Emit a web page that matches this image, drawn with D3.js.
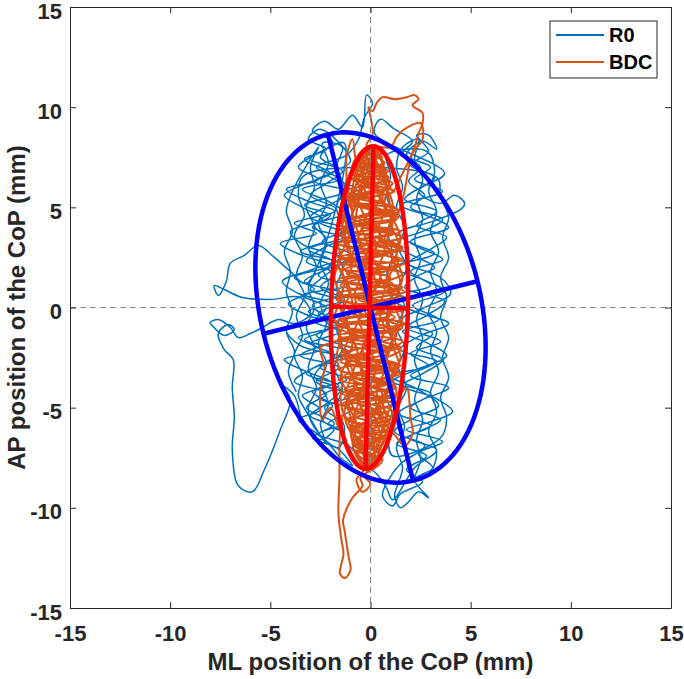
<!DOCTYPE html>
<html>
<head>
<meta charset="utf-8">
<script src="https://cdn.jsdelivr.net/npm/d3@7"></script>
<style>
  body { margin: 0; background: #fff; }
  svg { display: block; font-family: "Liberation Sans", Arial, sans-serif; }
</style>
</head>
<body>
<svg id="chart" width="684" height="679"></svg>
<script>
// tick labels
var xTicks = [-15, -10, -5, 0, 5, 10, 15];
var yTicks = [-15, -10, -5, 0, 5, 10, 15];

// series
var seriesNames = ["R0", "BDC"];

// R0 CoP trace (mm)
var r0Trace = [
  [-2.0,8.0],[-3.0,7.4],[-1.6,6.9],[-2.8,6.3],[-1.2,5.8],[-3.3,5.1],[-2.0,4.6],[-2.9,4.0],[-1.4,3.5],[-3.1,2.9],[-1.9,2.3],[-2.6,1.6],[-1.1,1.1],[-3.4,0.6],[-2.2,0.0],[-2.8,-0.7],[-1.5,-1.2],[-3.0,-1.8],[-1.8,-2.4],[-2.5,-3.0],[-1.2,-3.6],[-2.9,-4.2],[-1.9,-4.9],[-2.4,-5.6],[-1.3,-6.2],
  [-2.1,-5.8],[-1.0,-5.1],[-2.6,-4.5],[-1.6,-3.9],[-3.2,-3.3],[-2.2,-2.7],[-0.9,-2.1],[-2.7,-1.4],[-1.7,-0.8],[-3.1,-0.2],[-1.3,0.4],[-2.5,1.0],[-1.8,1.7],[-3.2,2.3],[-2.3,3.0],[-1.0,3.6],[-2.6,4.3],[-1.7,4.9],[-3.0,5.6],[-2.2,6.2],[-1.4,6.8],[-2.5,7.5],[-1.9,8.3],[-2.9,8.8],[-2.3,9.3],
  [-1.6,8.9],[-0.9,9.6],[-0.4,9.0],[-0.2,10.6],[0.1,10.2],[-0.3,9.5],[-0.6,8.4],[-1.2,7.6],
  [-2.7,7.0],[-1.5,6.4],[-3.4,5.9],[-2.1,5.3],[-1.3,4.7],[-2.8,4.1],[-2.2,3.4],[-3.5,2.8],[-1.6,2.2],[-2.4,1.5],[-3.0,0.9],[-1.4,0.3],[-2.6,-0.3],[-2.0,-1.0],[-3.3,-1.6],[-1.1,-2.2],[-2.3,-2.8],[-2.8,-3.5],[-1.5,-4.1],[-2.2,-4.8],[-3.0,-5.4],[-1.8,-6.0],[-2.5,-6.6],
  [-3.3,-5.9],[-3.8,-4.4],[-4.4,-3.9],[-4.0,-4.6],[-4.5,-6.1],[-5.3,-8.1],[-5.9,-9.2],[-6.6,-8.9],[-6.9,-7.1],[-6.8,-5.5],[-6.9,-4.0],[-6.85,-2.6],[-7.3,-2.1],[-7.6,-1.3],[-7.1,-0.85],[-6.8,-1.1],[-7.3,-1.4],[-7.9,-0.9],[-8.0,-0.75],[-7.6,-0.6],[-7.0,-1.0],[-6.6,-1.5],[-6.0,-1.3],[-5.4,-1.0],[-4.6,-0.6],[-3.8,-0.8],[-3.0,-0.3],
  [-3.5,0.5],[-5.0,0.4],[-6.4,0.5],[-7.3,0.9],[-7.8,1.1],[-7.6,0.6],[-7.2,1.3],[-7.0,2.2],[-6.3,2.6],[-5.6,3.1],[-4.8,2.5],[-4.0,1.8],[-3.2,1.2],
  [-1.3,8.2],[-2.4,7.8],[-3.6,7.0],[-2.6,6.4],[-4.2,5.9],[-3.1,5.3],[-1.8,4.8],[-3.8,4.2],[-2.7,3.7],[-4.5,3.2],[-3.4,2.6],[-2.0,2.1],[-3.8,1.5],[-2.8,0.9],[-4.1,0.2],[-3.1,-0.4],[-1.6,-0.9],[-3.6,-1.5],[-2.5,-2.1],[-4.3,-2.6],[-3.2,-3.2],[-1.9,-3.8],[-3.4,-4.4],[-2.5,-5.1],[-3.6,-5.6],[-2.8,-6.2],[-2.0,-6.9],[-1.5,-7.5],[-0.9,-7.9],
  [-1.7,-7.0],[-2.9,-6.5],[-1.8,-5.8],[-3.2,-5.0],[-2.2,-4.3],[-3.8,-3.7],[-2.8,-3.0],[-1.4,-2.5],[-3.5,-1.9],[-4.2,-1.1],[-2.6,-0.6],[-1.8,0.1],[-3.6,0.7],[-4.4,1.3],[-2.9,1.9],[-1.5,2.5],[-3.3,3.1],[-4.0,3.8],[-2.4,4.4],[-3.4,5.0],[-4.3,5.6],[-3.2,6.2],[-2.0,6.7],[-3.3,7.4],[-2.2,7.9],[-3.1,8.4],[-2.5,8.9],
  [-1.0,7.3],[-2.1,6.6],[-0.7,5.9],[-1.9,5.2],[-3.0,4.5],[-1.1,3.9],[-2.4,3.3],[-0.9,2.6],[-2.2,1.9],[-3.3,1.3],[-1.4,0.7],[-2.9,0.1],[-1.9,-0.6],[-0.8,-1.3],[-2.4,-1.9],[-3.5,-2.4],[-1.6,-3.0],[-2.7,-3.7],[-1.0,-4.4],[-2.3,-5.0],[-1.4,-5.8],[-2.6,-6.3],[-1.1,-6.9],[-0.5,-7.6],[0.3,-8.3],[0.8,-9.0],[1.1,-9.6],
  [2.2,-8.0],[3.3,-7.1],[1.9,-6.5],[3.0,-5.9],[1.4,-5.3],[2.6,-4.6],[3.9,-4.0],[2.0,-3.4],[3.3,-2.7],[1.5,-2.1],[2.5,-1.4],[3.9,-0.8],[2.2,-0.2],[1.0,0.5],[3.0,1.1],[2.0,1.8],[3.6,2.4],[2.4,3.0],[1.4,3.7],[3.1,4.3],[4.5,4.9],[4.7,5.2],[4.2,5.6],[3.5,5.2],[2.4,5.8],[3.2,6.5],[2.0,7.1],[2.9,7.8],[2.3,8.6],[2.9,8.6],[3.3,7.9],
  [2.6,8.3],[1.8,7.6],[3.0,7.0],[2.2,6.4],[3.6,5.8],[1.5,5.1],[2.8,4.6],[3.9,4.0],[2.0,3.3],[3.2,2.7],[1.2,2.0],[2.6,1.4],[3.7,0.8],[2.1,0.1],[3.4,-0.6],[1.6,-1.2],[2.9,-1.8],[3.8,-2.4],[2.3,-3.1],[1.1,-3.7],[3.0,-4.3],[2.0,-5.0],[3.5,-5.6],[2.4,-6.2],[1.3,-6.8],[2.8,-7.4],[1.8,-8.1],[2.6,-8.7],[1.5,-9.3],[1.1,-9.9],[0.6,-9.4],[0.9,-8.6],
  [1.5,-7.8],[2.7,-6.9],[1.2,-6.2],[2.2,-5.5],[3.4,-4.9],[2.4,-4.1],[1.0,-3.4],[2.9,-2.9],[2.0,-2.3],[3.5,-1.7],[1.8,-1.0],[2.8,-0.4],[3.7,0.3],[1.7,1.0],[2.4,1.6],[3.2,2.0],[2.1,2.6],[1.0,3.2],[2.6,3.8],[3.6,4.4],[2.0,5.0],[2.7,5.6],[1.9,6.3],[2.5,7.0],[1.6,7.7],[2.1,8.3],[1.2,8.9],[0.5,9.4],[0.2,8.7],
  [3.7,6.7],[2.5,6.0],[1.7,5.4],[3.3,4.8],[2.3,4.1],[3.8,3.5],[2.8,2.8],[1.9,2.2],[3.5,1.5],[4.0,0.7],[2.7,0.0],[1.4,-0.7],[3.1,-1.3],[2.3,-2.0],[3.6,-2.6],[2.6,-3.3],[1.6,-3.9],[3.2,-4.5],[4.1,-5.2],[3.0,-5.7],[1.8,-6.1],[3.6,-6.7],[2.4,-7.3],[3.1,-8.0],[2.2,-8.6],[2.9,-9.5],[2.4,-9.2],[1.9,-9.7],[1.5,-10.0],[1.2,-9.4],
  [1.3,-9.0],[1.6,-8.0],[1.3,-7.0],[1.7,-6.0],[1.4,-5.0],[1.8,-4.0],[1.4,-3.0],[1.7,-2.0],[1.3,-1.0],[1.7,0.0],[1.4,1.0],[1.8,2.0],[1.4,3.0],[1.7,4.0],[1.3,5.0],[1.6,6.0],[1.3,7.0],[1.6,8.0],
  [2.4,8.4],[2.2,7.4],[2.6,6.4],[2.3,5.4],[2.6,4.4],[2.2,3.4],[2.5,2.4],[2.2,1.4],[2.6,0.4],[2.3,-0.6],[2.6,-1.6],[2.2,-2.6],[2.5,-3.6],[2.2,-4.6],[2.6,-5.6],[2.3,-6.6],[2.5,-7.6],[2.2,-8.6],
  [3.0,-8.2],[3.3,-7.2],[2.9,-6.2],[3.3,-5.2],[3.0,-4.2],[3.4,-3.2],[3.0,-2.2],[3.3,-1.2],[2.9,-0.2],[3.3,0.8],[3.0,1.8],[3.4,2.8],[3.0,3.8],[3.3,4.8],[2.9,5.8],[3.2,6.8],[2.8,7.8],
  [0.8,7.6],[1.0,6.6],[0.8,5.6],[1.1,4.6],[0.9,3.6],[1.1,2.6],[0.8,1.6],[1.1,0.6],[0.8,-0.4],[1.1,-1.4],[0.8,-2.4],[1.1,-3.4],[0.8,-4.4],[1.1,-5.4],[0.9,-6.4],[1.1,-7.4],
  [3.5,-6.5],[3.8,-5.5],[3.5,-4.5],[3.9,-3.5],[3.6,-2.5],[3.9,-1.5],[3.5,-0.5],[3.8,0.5],[3.5,1.5],[3.9,2.5],[3.6,3.5],[3.9,4.5],[3.5,5.5],[3.3,6.5],
  [-3.3,6.6],[-3.6,5.6],[-3.3,4.6],[-3.8,3.6],[-3.4,2.6],[-3.7,1.6],[-3.3,0.6],[-3.7,-0.4],[-3.4,-1.4],[-3.8,-2.4],[-3.4,-3.4],[-3.6,-4.4],[-3.2,-5.2],
  [-2.2,-6.8],[-2.5,-5.8],[-2.1,-4.8],[-2.5,-3.8],[-2.2,-2.8],[-2.6,-1.8],[-2.2,-0.8],[-2.5,0.2],[-2.1,1.2],[-2.5,2.2],[-2.2,3.2],[-2.6,4.2],[-2.2,5.2],[-2.5,6.2],[-2.1,7.2],[-2.4,8.2],
  [-1.4,8.0],[-1.7,7.0],[-1.3,6.0],[-1.7,5.0],[-1.4,4.0],[-1.8,3.0],[-1.4,2.0],[-1.7,1.0],[-1.3,0.0],[-1.7,-1.0],[-1.4,-2.0],[-1.8,-3.0],[-1.4,-4.0],[-1.7,-5.0],[-1.3,-6.0],[-1.6,-7.0],
  [-2.8,-6.0],[-3.1,-5.0],[-2.7,-4.0],[-3.1,-3.0],[-2.8,-2.0],[-3.2,-1.0],[-2.8,0.0],[-3.1,1.0],[-2.7,2.0],[-3.1,3.0],[-2.8,4.0],[-3.2,5.0],[-2.8,6.0],[-3.0,7.0],[-2.6,8.0],
  [-3.9,5.8],[-4.2,4.8],[-3.9,3.8],[-4.3,2.8],[-4.0,1.8],[-4.2,0.8],[-3.9,-0.2],[-4.2,-1.2],[-3.8,-2.2],[-4.1,-3.2],[-3.7,-4.2]
];

// BDC CoP trace (mm)
var bdcTrace = [
  [0.0,8.0],[-0.6,7.4],[0.5,7.0],[-0.9,6.4],[0.8,5.9],[-1.2,5.4],[0.3,4.9],[1.3,4.4],[-1.5,3.9],[0.6,3.4],[-0.8,2.9],[1.6,2.4],[-1.3,1.9],[0.2,1.4],[1.4,0.9],[-1.7,0.4],[0.7,-0.1],[-0.6,-0.6],[1.5,-1.1],[-1.4,-1.6],[0.4,-2.1],[-1.0,-2.6],[1.2,-3.1],[-1.6,-3.6],[0.5,-4.1],[-0.7,-4.6],[1.0,-5.1],[-1.2,-5.6],[0.2,-6.1],[-0.8,-6.6],[0.5,-7.1],[-0.5,-7.6],[0.1,-8.0],
  [-0.5,-8.5],[-0.4,-8.9],[-0.9,-9.5],[-1.37,-10.6],[-1.3,-11.1],[-1.1,-12.4],[-1.0,-13.1],[-1.27,-13.5],[-1.52,-13.3],[-1.35,-12.3],[-1.45,-11.6],[-1.6,-10.3],[-1.55,-8.5],[-1.5,-6.1],[-1.2,-5.0],
  [-0.3,-7.4],[0.6,-6.8],[-1.0,-6.3],[0.9,-5.8],[-0.4,-5.3],[-1.4,-4.8],[1.2,-4.3],[-0.2,-3.8],[1.5,-3.3],[-1.2,-2.8],[0.8,-2.3],[-1.6,-1.8],[0.3,-1.3],[1.7,-0.8],[-0.9,-0.3],[1.1,0.2],[-1.5,0.7],[0.5,1.2],[1.6,1.7],[-1.0,2.2],[0.9,2.7],[-1.6,3.2],[1.2,3.7],[-0.3,4.2],[1.0,4.7],[-1.1,5.2],[0.6,5.7],[-0.7,6.2],[0.7,6.7],[-0.4,7.2],[0.3,7.7],[-0.2,8.1],
  [0.1,8.6],[0.05,9.3],[-0.1,10.0],[0.1,9.8],[0.3,10.2],[0.6,10.5],[1.2,10.4],[1.8,10.5],[2.2,10.6],[2.4,10.4],[2.1,10.1],[2.6,9.7],[2.6,9.2],[2.4,8.7],[2.2,8.0],[1.9,7.3],[1.5,6.5],[1.1,5.8],
  [0.3,7.8],[-0.7,7.1],[0.9,6.5],[-0.2,6.0],[-1.1,5.6],[1.2,5.0],[-0.6,4.5],[0.4,4.0],[-1.5,3.6],[1.5,3.0],[-0.1,2.5],[-1.7,2.0],[1.0,1.5],[-0.5,1.0],[1.7,0.5],[-1.2,0.0],[0.2,-0.5],[1.6,-1.0],[-1.6,-1.4],[0.9,-2.0],[-0.4,-2.5],[1.4,-3.0],[-1.3,-3.4],[0.1,-4.0],[1.2,-4.4],[-1.2,-4.9],[0.6,-5.4],[-0.9,-6.0],[0.7,-6.5],[-0.6,-7.0],[0.3,-7.5],[-0.3,-8.1],
  [-1.2,-6.8],[-1.6,-6.0],[-2.0,-5.0],[-2.4,-5.6],[-2.5,-4.0],[-2.3,-3.0],[-2.5,-2.0],[-2.0,-1.8],[-1.0,-1.5],[-0.4,-3.5],[0.1,-6.5],
  [0.2,-7.8],[-0.7,-7.2],[0.4,-6.6],[-1.0,-6.1],[1.0,-5.5],[0.0,-5.0],[-1.3,-4.5],[1.3,-4.0],[-0.8,-3.5],[0.6,-3.0],[-1.5,-2.5],[1.5,-2.0],[-0.3,-1.5],[-1.6,-1.0],[1.2,-0.5],[0.0,0.0],[-1.7,0.5],[1.6,1.0],[-0.8,1.5],[0.7,2.0],[-1.6,2.5],[1.6,3.0],[0.2,3.5],[-1.4,4.0],[1.4,4.5],[-0.4,5.0],[-1.2,5.5],[1.0,6.0],[-0.8,6.5],[0.5,7.0],[-0.3,7.5],[0.2,8.0],
  [1.0,8.0],[1.3,8.5],[1.7,8.9],[2.5,9.2],[2.6,8.4],[2.1,7.7],[1.6,5.4],[1.2,4.5],
  [-0.4,7.7],[0.7,7.2],[-0.9,6.7],[1.1,6.2],[0.1,5.7],[-1.3,5.2],[1.3,4.7],[-1.0,4.2],[0.9,3.7],[-1.6,3.2],[0.4,2.7],[1.7,2.2],[-1.2,1.7],[1.1,1.2],[-1.7,0.7],[0.5,0.2],[-0.8,-0.3],[1.7,-0.8],[-1.0,-1.3],[0.3,-1.8],[-1.5,-2.3],[1.3,-2.8],[-0.6,-3.3],[0.9,-3.8],[-1.4,-4.3],[1.1,-4.8],[-0.3,-5.3],[-1.1,-5.8],[0.8,-6.3],[-0.7,-6.8],[0.5,-7.3],[-0.4,-7.8],
  [0.5,-7.0],[1.0,-6.2],[1.7,-6.9],[2.1,-6.3],[2.0,-5.5],[1.8,-4.0],[1.2,-5.0],[0.4,-7.3],
  [-0.1,-8.2],[0.6,-7.6],[-0.6,-7.1],[0.2,-6.5],[-1.1,-6.0],[0.9,-5.6],[-0.5,-5.0],[1.2,-4.6],[-1.3,-4.1],[0.4,-3.6],[1.4,-3.2],[-1.5,-2.7],[0.1,-2.2],[1.6,-1.7],[-0.8,-1.2],[-1.7,-0.7],[1.0,-0.2],[-0.3,0.3],[1.7,0.8],[-1.4,1.3],[0.3,1.8],[-1.7,2.3],[1.2,2.8],[-0.5,3.3],[1.5,3.8],[-1.2,4.3],[0.7,4.8],[-0.9,5.3],[1.2,5.8],[-0.6,6.3],[0.9,6.8],[-0.5,7.3],[0.4,7.8],
  [-0.6,7.0],[-0.9,8.4],[-1.2,7.5],[-1.2,6.5],[-1.3,4.7],[-1.0,3.5],[-0.5,6.0],
  [-0.2,8.0],[-0.9,7.0],[0.8,6.4],[-1.2,5.8],[0.4,5.3],[1.4,4.8],[-1.4,4.4],[0.0,3.9],[1.6,3.5],[-0.9,3.0],[-1.7,2.6],[1.4,2.1],[0.1,1.6],[-1.5,1.1],[1.5,0.6],[-0.4,0.1],[0.9,-0.4],[-1.7,-0.9],[1.3,-1.4],[-0.1,-1.9],[-1.4,-2.4],[1.5,-2.9],[-1.0,-3.4],[1.2,-3.9],[-0.4,-4.4],[-1.3,-4.9],[0.9,-5.4],[-0.6,-5.9],[0.6,-6.5],[-0.9,-7.0],[0.1,-7.6],[-0.4,-8.2],
  [-0.7,-8.6],[-0.4,-9.2],[0.0,-8.8],[-0.3,-8.4],
  [0.3,-7.6],[-0.8,-6.7],[0.9,-6.0],[-0.8,-5.4],[1.1,-4.8],[-1.2,-4.2],[0.9,-3.7],[-1.6,-3.1],[0.5,-2.6],[1.5,-2.1],[-1.0,-1.7],[0.7,-1.1],[-1.6,-0.6],[1.7,-0.1],[-0.6,0.4],[1.2,0.9],[-1.6,1.4],[0.9,1.9],[-0.3,2.4],[1.6,2.9],[-1.4,3.4],[0.6,3.9],[-0.8,4.4],[1.3,4.9],[-1.2,5.4],[0.3,6.0],[-1.0,6.5],[0.6,7.0],[-0.5,7.6],[0.1,8.1],
  [-0.3,7.9],[0.0,7.0],[-0.3,6.0],[0.0,5.0],[-0.4,4.0],[-0.1,3.0],[-0.4,2.0],[0.0,1.0],[-0.3,0.0],[0.0,-1.0],[-0.4,-2.0],[-0.1,-3.0],[-0.4,-4.0],[0.0,-5.0],[-0.3,-6.0],[0.0,-7.0],[-0.2,-8.0],
  [-0.6,-7.6],[-0.9,-6.8],[-0.7,-5.8],[-1.1,-4.8],[-0.8,-3.8],[-1.2,-2.8],[-0.9,-1.8],[-1.2,-0.8],[-0.9,0.2],[-1.2,1.2],[-0.9,2.2],[-1.2,3.2],[-0.8,4.2],[-1.0,5.2],[-0.6,6.4],
  [0.4,7.9],[0.6,6.9],[0.3,5.9],[0.7,4.9],[0.4,3.9],[0.7,2.9],[0.4,1.9],[0.7,0.9],[0.4,-0.1],[0.7,-1.1],[0.4,-2.1],[0.7,-3.1],[0.3,-4.1],[0.5,-5.1],[0.2,-6.1],[0.3,-7.1],
  [-1.0,-6.2],[-1.3,-5.2],[-1.1,-4.4],[-1.5,-3.5],[-1.2,-2.6],[-1.6,-1.6],[-1.3,-0.7],[-1.6,0.3],[-1.3,1.2],[-1.6,2.2],[-1.3,3.1],[-1.4,4.1],[-1.1,5.0],[-0.9,6.0],[-0.6,7.2],
  [-0.4,7.6],[-0.7,6.6],[-0.5,5.6],[-0.9,4.6],[-0.6,3.6],[-0.9,2.6],[-0.5,1.6],[-0.8,0.6],[-0.5,-0.4],[-0.9,-1.4],[-0.6,-2.4],[-0.9,-3.4],[-0.5,-4.4],[-0.8,-5.4],[-0.5,-6.4],[-0.6,-7.4],
  [-0.1,-7.9],[0.2,-6.9],[-0.1,-5.9],[0.3,-4.9],[0.0,-3.9],[0.3,-2.9],[-0.1,-1.9],[0.2,-0.9],[-0.1,0.1],[0.3,1.1],[0.0,2.1],[0.3,3.1],[-0.1,4.1],[0.2,5.1],[0.0,6.1],[0.2,7.1],[0.0,7.9],
  [0.5,7.4],[0.8,6.4],[0.6,5.4],[1.0,4.4],[0.7,3.4],[1.1,2.4],[0.8,1.4],[1.1,0.4],[0.8,-0.6],[1.1,-1.6],[0.7,-2.6],[1.0,-3.6],[0.6,-4.6],[0.8,-5.6],[0.4,-6.6],
  [0.9,-5.2],[1.3,-4.3],[1.1,-3.4],[1.5,-2.5],[1.2,-1.5],[1.6,-0.5],[1.3,0.5],[1.6,1.5],[1.3,2.5],[1.5,3.5],[1.1,4.5],[0.9,5.5],[0.5,6.8],
  [-1.4,4.5],[-1.7,3.5],[-1.5,2.5],[-1.8,1.5],[-1.5,0.5],[-1.8,-0.5],[-1.5,-1.5],[-1.7,-2.5],[-1.4,-3.5],[-1.5,-4.5],[-1.2,-5.5],
  [1.0,-5.8],[1.2,-4.8],[1.0,-3.8],[1.4,-2.8],[1.1,-1.8],[1.5,-0.8],[1.2,0.2],[1.5,1.2],[1.2,2.2],[1.4,3.2],[1.0,4.2],[1.1,5.2],[0.7,6.2],
  [-0.1,8.0],[-0.5,7.2],[-0.2,6.4],[-0.6,5.4],[-0.3,4.4],[-0.6,3.4],[-0.2,2.4],[-0.6,1.4],[-0.2,0.4],[-0.6,-0.6],[-0.2,-1.6],[-0.6,-2.6],[-0.2,-3.6],[-0.6,-4.6],[-0.2,-5.6],[-0.5,-6.6],[-0.2,-7.6],
  [0.1,-7.4],[0.5,-6.4],[0.2,-5.4],[0.6,-4.4],[0.2,-3.4],[0.6,-2.4],[0.2,-1.4],[0.5,-0.4],[0.1,0.6],[0.5,1.6],[0.1,2.6],[0.5,3.6],[0.1,4.6],[0.5,5.6],[0.1,6.6],[0.3,7.6],
  [-0.8,6.8],[-1.1,5.8],[-0.9,4.8],[-1.3,3.8],[-1.0,2.8],[-1.4,1.8],[-1.0,0.8],[-1.4,-0.2],[-1.0,-1.2],[-1.3,-2.2],[-0.9,-3.2],[-1.2,-4.2],[-0.8,-5.2],[-1.0,-6.2],[-0.7,-7.0],
  [0.6,-6.8],[0.9,-5.8],[0.6,-4.8],[1.0,-3.8],[0.7,-2.8],[1.1,-1.8],[0.8,-0.8],[1.2,0.2],[0.8,1.2],[1.2,2.2],[0.8,3.2],[1.1,4.2],[0.7,5.2],[0.9,6.2],[0.5,7.2]
];

// 95% confidence ellipses: centre, semi-axes (mm), major axis angle (deg)
var ellipseCenters = [[0, 0], [-0.05, 0]];
var ellipseSemiAxes = [[8.9, 5.5], [8.05, 1.92]];
var ellipseAngles = [103.8, 88.6];

var traceColors = ["#0072BD", "#D95319"];
var traceWidths = [1.5, 2.0];
var ellipseColors = ["#0000FF", "#FF0000"];

var svg = d3.select("#chart");
var mLeft = 70, mRight = 671, mTop = 7, mBottom = 608;

var x = d3.scaleLinear().domain([-15, 15]).range([mLeft, mRight]);
var y = d3.scaleLinear().domain([-15, 15]).range([mBottom, mTop]);

var fmt = function(d){ return String(d); };

// traces
var line = d3.line()
  .x(function(d){ return x(d[0]); })
  .y(function(d){ return y(d[1]); })
  .curve(d3.curveCatmullRom.alpha(0.5));

svg.append("g").selectAll("path")
  .data([r0Trace, bdcTrace])
  .enter()
  .append("path")
  .attr("d", line)
  .attr("fill", "none")
  .attr("stroke", function(d, i){ return traceColors[i]; })
  .attr("stroke-width", function(d, i){ return traceWidths[i]; })
  .attr("stroke-linejoin", "round");

// zero lines
svg.append("line")
  .attr("x1", x(0)).attr("x2", x(0)).attr("y1", y(15)).attr("y2", y(-15))
  .attr("stroke", "#8c8c8c").attr("stroke-width", 1).attr("stroke-dasharray", "6,4");
svg.append("line")
  .attr("x1", x(-15)).attr("x2", x(15)).attr("y1", y(0)).attr("y2", y(0))
  .attr("stroke", "#8c8c8c").attr("stroke-width", 1).attr("stroke-dasharray", "6,4");

// ellipses with their axes
ellipseCenters.forEach(function(c, i){
  var a = ellipseSemiAxes[i][0], b = ellipseSemiAxes[i][1];
  var th = ellipseAngles[i] * Math.PI / 180;
  var ux = Math.cos(th), uy = Math.sin(th);
  var vx = -uy, vy = ux;
  var pts = d3.range(0, 361, 3).map(function(deg){
    var t = deg * Math.PI / 180;
    return [c[0] + a * Math.cos(t) * ux + b * Math.sin(t) * vx,
            c[1] + a * Math.cos(t) * uy + b * Math.sin(t) * vy];
  });
  var g = svg.append("g")
    .attr("fill", "none")
    .attr("stroke", ellipseColors[i])
    .attr("stroke-width", 4.5);
  g.append("path").attr("d", d3.line().x(function(d){ return x(d[0]); }).y(function(d){ return y(d[1]); })(pts));
  g.append("line")
    .attr("x1", x(c[0] + a * ux)).attr("y1", y(c[1] + a * uy))
    .attr("x2", x(c[0] - a * ux)).attr("y2", y(c[1] - a * uy));
  g.append("line")
    .attr("x1", x(c[0] + b * vx)).attr("y1", y(c[1] + b * vy))
    .attr("x2", x(c[0] - b * vx)).attr("y2", y(c[1] - b * vy));
});

// axes (box with inner ticks)
function styleAxis(g){
  g.selectAll("path, line").attr("stroke", "#262626").attr("stroke-width", 1);
  g.selectAll("text").attr("fill", "#262626").style("font-size", "22px").style("font-weight", "bold");
}
svg.append("g").attr("transform", "translate(0," + mBottom + ")")
  .call(d3.axisBottom(x).tickValues(xTicks).tickFormat(fmt).tickSizeInner(-6).tickSizeOuter(0).tickPadding(17))
  .call(styleAxis);
svg.append("g").attr("transform", "translate(0," + mTop + ")")
  .call(d3.axisTop(x).tickValues(xTicks).tickFormat("").tickSizeInner(-6).tickSizeOuter(0))
  .call(styleAxis);
svg.append("g").attr("transform", "translate(" + mLeft + ",0)")
  .call(d3.axisLeft(y).tickValues(yTicks).tickFormat(fmt).tickSizeInner(-6).tickSizeOuter(0).tickPadding(8))
  .call(styleAxis)
  .selectAll("text").attr("dy", "0.5em");
svg.append("g").attr("transform", "translate(" + mRight + ",0)")
  .call(d3.axisRight(y).tickValues(yTicks).tickFormat("").tickSizeInner(-6).tickSizeOuter(0))
  .call(styleAxis);

// axis labels
svg.append("text")
  .attr("x", (mLeft + mRight) / 2).attr("y", 670)
  .attr("text-anchor", "middle")
  .attr("fill", "#262626").style("font-size", "24px").style("font-weight", "bold")
  .text("ML position of the CoP (mm)");
svg.append("text")
  .attr("transform", "translate(25," + ((mTop + mBottom) / 2) + ") rotate(-90)")
  .attr("text-anchor", "middle")
  .attr("fill", "#262626").style("font-size", "24px").style("font-weight", "bold")
  .text("AP position of the CoP (mm)");

// legend
var legend = svg.append("g");
legend.append("rect")
  .attr("x", 550).attr("y", 21).attr("width", 107).attr("height", 57)
  .attr("fill", "#fff").attr("stroke", "#262626").attr("stroke-width", 1);
seriesNames.forEach(function(name, i){
  var ly = 35 + i * 27;
  legend.append("line")
    .attr("x1", 556).attr("x2", 604).attr("y1", ly).attr("y2", ly)
    .attr("stroke", traceColors[i]).attr("stroke-width", 2);
  legend.append("text")
    .attr("x", 609).attr("y", ly + 7)
    .attr("fill", "#000").style("font-size", "20px").style("font-weight", "bold")
    .text(name);
});
</script>
</body>
</html>
